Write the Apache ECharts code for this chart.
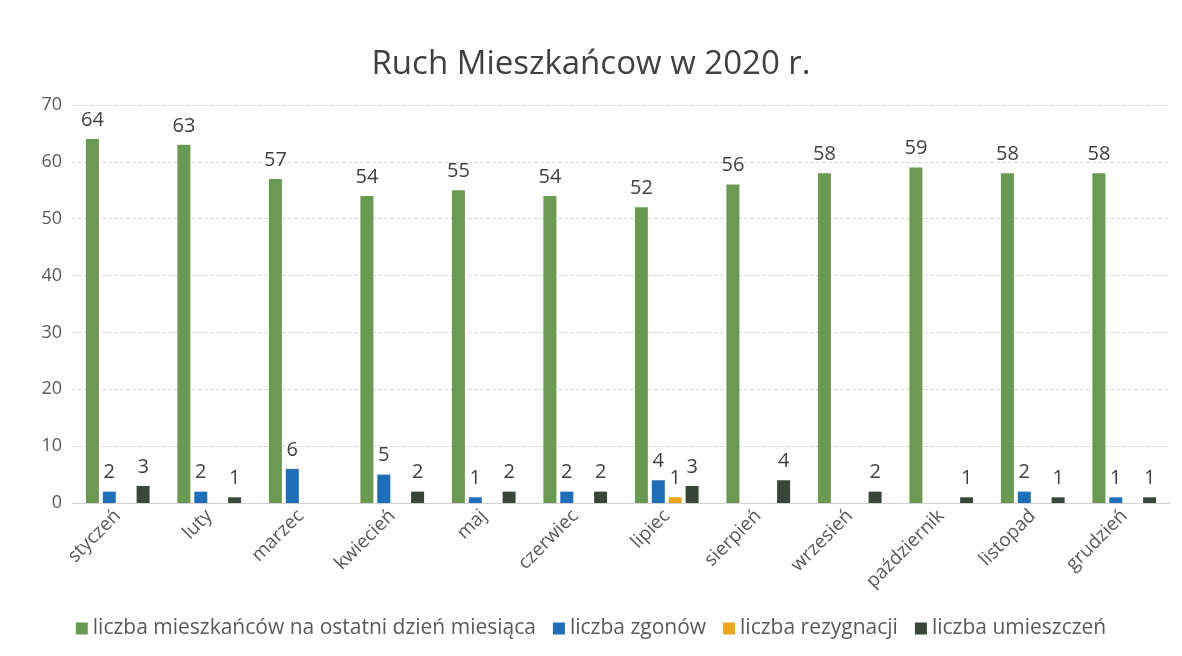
<!DOCTYPE html>
<html>
<head>
<meta charset="utf-8">
<script src="https://cdn.jsdelivr.net/npm/echarts@6/dist/echarts.min.js"></script>
<style>
	html, body { margin: 0; padding: 0; background: #fff; }
	#chart { width: 1182px; height: 656px; }
</style>
</head>
<body>
<div id="chart"></div>
<script>
	// dane z wykresu
	var months = ['styczeń', 'luty', 'marzec', 'kwiecień', 'maj', 'czerwiec', 'lipiec', 'sierpień', 'wrzesień', 'październik', 'listopad', 'grudzień'];
	var residents = [64, 63, 57, 54, 55, 54, 52, 56, 58, 59, 58, 58];
	var deaths = [2, 2, 6, 5, 1, 2, 4, 0, 0, 0, 2, 1];
	var resignations = [0, 0, 0, 0, 0, 0, 1, 0, 0, 0, 0, 0];
	var placements = [3, 1, 0, 2, 2, 2, 3, 4, 2, 1, 1, 1];
	var seriesNames = ['liczba mieszkańców na ostatni dzień miesiąca', 'liczba zgonów', 'liczba rezygnacji', 'liczba umieszczeń'];
	var yTicks = [0, 10, 20, 30, 40, 50, 60, 70];

	var colors = ['#6a9a52', '#1f6fb8', '#eba51c', '#3a463a'];
	var font = '"Open Sans", "Noto Sans", sans-serif';

	function makeBar(name, data) {
		return {
			name: name,
			type: 'bar',
			barWidth: 13,
			barGap: '30%',
			data: data,
			label: {
				show: true,
				position: 'top',
				distance: 9,
				fontSize: 20,
				fontFamily: font,
				color: '#404040',
				formatter: function(p) {
					return p.value !== 0 ? p.value : '';
				}
			}
		};
	}

	var chart = echarts.init(document.getElementById('chart'));
	chart.setOption({
		animation: false,
		color: colors,
		title: {
			text: 'Ruch Mieszkańcow w 2020 r.',
			left: 'center',
			top: 43,
			textStyle: {
				fontFamily: font,
				fontSize: 33,
				fontWeight: 'normal',
				color: '#404040'
			}
		},
		grid: {
			left: 72,
			right: 12,
			top: 105,
			bottom: 153
		},
		legend: {
			bottom: 12,
			left: 'center',
			itemWidth: 12,
			itemHeight: 12,
			itemGap: 17,
			icon: 'rect',
			textStyle: {
				fontFamily: font,
				fontSize: 21,
				color: '#595959'
			},
			data: seriesNames
		},
		xAxis: {
			type: 'category',
			data: months,
			axisTick: { show: false },
			axisLine: { lineStyle: { color: '#d0d0d0' } },
			axisLabel: {
				rotate: 45,
				interval: 0,
				margin: 10,
				fontFamily: font,
				fontSize: 19,
				color: '#595959'
			}
		},
		yAxis: {
			type: 'value',
			min: yTicks[0],
			max: yTicks[yTicks.length - 1],
			interval: 10,
			axisLine: { show: false },
			axisTick: { show: false },
			splitLine: { lineStyle: { color: '#d9d9d9', type: 'dashed' } },
			axisLabel: {
				margin: 10,
				fontFamily: font,
				fontSize: 18,
				color: '#595959'
			}
		},
		series: [
			makeBar(seriesNames[0], residents),
			makeBar(seriesNames[1], deaths),
			makeBar(seriesNames[2], resignations),
			makeBar(seriesNames[3], placements)
		]
	});
</script>
</body>
</html>
